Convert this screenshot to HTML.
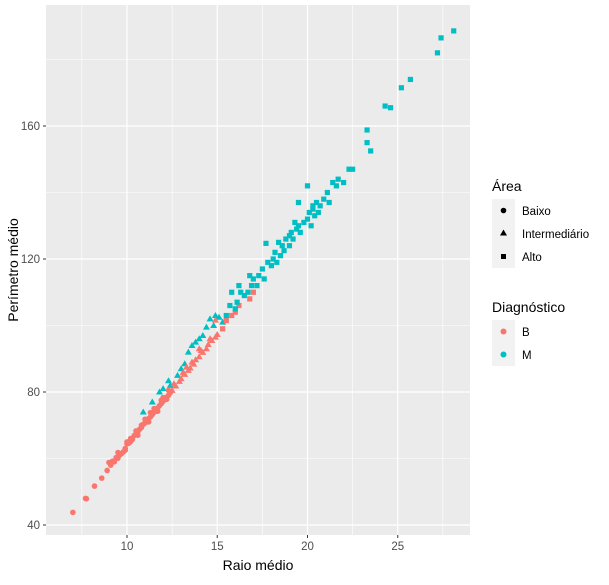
<!DOCTYPE html>
<html><head><meta charset="utf-8"><style>
body{margin:0;background:#fff;font-family:"Liberation Sans",sans-serif}
</style></head><body>
<svg id="chart" width="609" height="580" xmlns="http://www.w3.org/2000/svg" font-family="Liberation Sans, sans-serif">
<rect x="46" y="5" width="424" height="530" fill="#EBEBEB"/>
<g id="grid"></g>
<g id="pts"></g>
<g id="axes"></g>
<text x="258" y="570" font-size="14" text-anchor="middle" fill="#000">Raio médio</text>
<text transform="translate(18,270) rotate(-90)" font-size="14" text-anchor="middle" fill="#000">Perímetro médio</text>
<g>
<text x="492" y="191" font-size="14">Área</text>
<rect x="492" y="199" width="23" height="23" fill="#F2F2F2"/><circle cx="503.5" cy="210.5" r="2.8" fill="#000"/>
<text x="522" y="215" font-size="11.5">Baixo</text>
<rect x="492" y="222" width="23" height="23" fill="#F2F2F2"/><polygon points="503.5,229.5 507,235.5 500,235.5" fill="#000"/>
<text x="522" y="238" font-size="11.5">Intermediário</text>
<rect x="492" y="245" width="23" height="23" fill="#F2F2F2"/><rect x="501" y="254" width="5" height="5" fill="#000"/>
<text x="522" y="261" font-size="11.5">Alto</text>
</g>
<g>
<text x="492" y="312" font-size="14">Diagnóstico</text>
<rect x="492" y="320" width="23" height="23" fill="#F2F2F2"/><circle cx="503.5" cy="331.5" r="3" fill="#F8766D"/>
<text x="522" y="336" font-size="11.5">B</text>
<rect x="492" y="343" width="23" height="23" fill="#F2F2F2"/><circle cx="503.5" cy="354.5" r="3" fill="#00BFC4"/>
<text x="522" y="359" font-size="11.5">M</text>
</g>
</svg>
<script>
const xTicks=[10,15,20,25];
const yTicks=[40,80,120,160];
const bCircR=[7.0,7.7,7.75,8.2,8.6,8.9,9.0,9.2,9.3,9.4,9.5,9.6,9.7,9.8,9.9,10.0,10.1,10.2,10.3,10.4,10.5,10.6,10.7,10.8,10.9,11.0,11.1,11.2,11.3,11.4,11.5,11.6,11.7,11.8,11.9,12.0,12.1,12.2,12.3,12.4,9.5,10.0,10.5,11.0,11.5,12.0,10.2,10.8,11.3,11.9,12.3,9.1,9.9,10.6,11.2,11.7,12.2];
const bCircP=[43.8,48.0,47.9,51.7,54.1,56.4,58.8,59.2,59.0,60.3,60.1,61.1,61.5,62.0,63.0,64.4,64.6,65.1,65.8,66.9,67.4,68.0,68.8,69.3,70.3,70.7,71.5,72.0,72.5,73.2,73.9,74.7,75.2,75.9,76.5,77.2,77.9,78.5,79.0,79.8,61.8,65.0,68.3,71.8,75.0,78.3,66.0,70.0,73.8,77.5,80.5,58.0,62.5,67.0,71.0,74.2,77.8];
const bTriR=[12.5,12.7,12.9,13.0,13.2,13.4,13.5,13.7,13.8,14.0,14.2,14.4,14.5,14.7,14.9,15.0,13.3,14.0,14.9,12.6,13.1,13.6,14.1,14.6];
const bTriP=[80.5,81.8,83.2,84.0,85.3,86.5,87.2,88.4,89.7,90.6,91.9,93.0,94.3,95.5,96.5,97.3,87.5,93.0,101.6,82.5,85.8,89.0,92.5,96.0];
const bSqR=[15.3,15.5,16.0,16.2,17.0,16.8,15.8];
const bSqP=[99.0,101.5,104.0,106.0,110.0,108.0,103.0];
const mTriR=[11.4,12.0,12.3,12.8,13.2,13.4,13.6,13.8,14.2,14.4,14.6,14.9,15.1,15.3,10.9,11.8,12.4,13.0,14.0,14.8];
const mTriP=[77.0,81.0,83.4,85.0,88.5,92.0,94.0,95.0,97.0,99.5,102.0,103.0,102.5,101.0,74.0,80.0,82.0,87.0,96.0,100.0];
const mSqR=[15.5,15.7,16.0,16.1,16.3,16.5,16.7,16.9,17.0,17.2,17.3,17.5,17.6,17.8,18.0,18.1,18.2,18.3,18.5,18.6,18.7,18.8,19.0,19.0,19.1,19.2,19.4,19.5,19.6,19.8,20.0,20.1,20.2,20.3,20.4,20.5,20.6,20.7,20.9,21.1,21.2,21.4,21.6,21.7,22.0,22.3,22.5,23.3,23.5,23.3,24.3,24.6,25.2,25.7,27.2,27.4,28.1,17.7,19.5,20.0,15.8,16.2,16.8,18.4,19.3,20.3];
const mSqP=[103,106,105,107,110,109,110,112,114,112,115,117,114,119,118,120,122,119,121,124,122.5,126,124,127,128,126,129,130,128,131,132,134,130,135,133,137,134,136,138,140,137,143,142,144,143,147,147,155,152.5,158.8,166,165.5,171.5,174,182,186.5,188.6,124.7,137,142,110,112,115,125,131,136];
const X=v=>127+(v-10)*18.05;
const Y=v=>525-(v-40)*3.325;
const NS="http://www.w3.org/2000/svg";
function mk(tag,attrs,parent){const e=document.createElementNS(NS,tag);for(const k in attrs)e.setAttribute(k,attrs[k]);parent.appendChild(e);return e;}
const grid=document.getElementById('grid'),axes=document.getElementById('axes'),pts=document.getElementById('pts');
[7.5,12.5,17.5,22.5,27.5].forEach(v=>{const l=mk('line',{x1:X(v),x2:X(v),y1:5,y2:535,stroke:'#fff','stroke-width':0.6},grid);

});
[60,100,140,180].forEach(v=>{const l=mk('line',{y1:Y(v),y2:Y(v),x1:46,x2:470,stroke:'#fff','stroke-width':0.6},grid);

});
xTicks.forEach(v=>{const l=mk('line',{x1:X(v),x2:X(v),y1:5,y2:535,stroke:'#fff','stroke-width':1.2},grid);


mk('line',{x1:X(v),x2:X(v),y1:535,y2:538,stroke:'#333','stroke-width':1},axes);
const t=mk('text',{x:X(v),y:550,'font-size':11.5,'text-anchor':'middle',fill:'#4D4D4D'},axes);t.textContent=v;

});
yTicks.forEach(v=>{const l=mk('line',{y1:Y(v),y2:Y(v),x1:46,x2:470,stroke:'#fff','stroke-width':1.2},grid);


mk('line',{x1:43,x2:46,y1:Y(v),y2:Y(v),stroke:'#333','stroke-width':1},axes);
const t=mk('text',{x:40,y:Y(v)+4,'font-size':11.5,'text-anchor':'end',fill:'#4D4D4D'},axes);t.textContent=v;

});
function draw(R,P,shape,col,name){R.forEach((r,i)=>{const x=X(r),y=Y(P[i]);let e;
if(shape==='c')e=mk('circle',{cx:x,cy:y,r:2.8,fill:col},pts);
else if(shape==='t')e=mk('polygon',{points:`${x},${y-3.5} ${x+3.5},${y+2.5} ${x-3.5},${y+2.5}`,fill:col},pts);
else e=mk('rect',{x:x-2.6,y:y-2.6,width:5.2,height:5.2,fill:col},pts);

});}
draw(mTriR,mTriP,'t','#00BFC4','point-m-intermediario');
draw(bCircR,bCircP,'c','#F8766D','point-b-baixo');
draw(bTriR,bTriP,'t','#F8766D','point-b-intermediario');
draw(bSqR,bSqP,'s','#F8766D','point-b-alto');
draw(mSqR,mSqP,'s','#00BFC4','point-m-alto');
</script>
</body></html>
